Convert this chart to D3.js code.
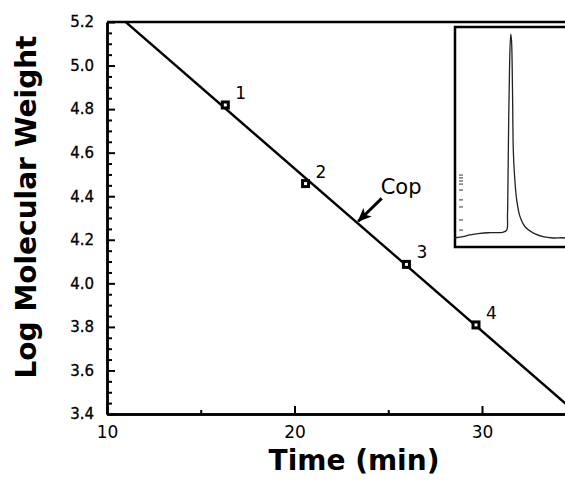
<!DOCTYPE html>
<html><head><meta charset="utf-8">
<script src="https://cdn.jsdelivr.net/npm/d3@7"></script>
<style>
html,body{margin:0;padding:0;background:#fff;}
svg{display:block;font-family:"DejaVu Sans",sans-serif;}
</style></head>
<body>
<svg id="c" width="565" height="481"></svg>
<script>
// ---- data ----
const standardLabels = ["1", "2", "3", "4"];
const standardTimes = [16.31, 20.59, 25.97, 29.68];      // min
const standardLogMW = [4.819, 4.458, 4.087, 3.809];
const yMajorTicks = [3.4, 3.6, 3.8, 4.0, 4.2, 4.4, 4.6, 4.8, 5.0, 5.2];
const xMajorTicks = [10, 20, 30];
const xMinorTicks = [15, 25];
const annotationText = "Cop";
const annotationTip = [23.4, 4.285];
const annotationTail = [24.65, 4.39];
// inset chromatogram (arbitrary units)
const insetTime = [0, 3.3, 8, 15, 25, 35, 48, 51.7, 52.5, 53, 53.7, 54.5, 55.7, 56.5, 57.5, 58.3, 59.5, 61.7, 65, 70, 78, 88, 98, 106.7, 110];
const insetSignal = [4.2, 4.4, 4.7, 5.5, 6.2, 6.5, 6.7, 7.7, 14.5, 30.5, 57.7, 80.5, 96.8, 94, 71.4, 44, 32.7, 21.4, 13.8, 9.2, 6.4, 4.7, 4.1, 4.2, 4.1];
const insetMarks = [32.7, 31.4, 30, 28.6, 25.9, 21.4, 18.2, 12.3, 7.7];

// ---- layout ----
const svg = d3.select("#c");
const L = 107, T = 22, B = 414;
const x = d3.scaleLinear().domain([10, 35]).range([L, L + 25 * 18.75]);
const y = d3.scaleLinear().domain([3.4, 5.2]).range([B, T]);
const yMinor = d3.range(3.45, 5.2, 0.05).filter(v => Math.abs(Math.round(v * 5) - v * 5) > 1e-6);

// clip
svg.append("defs").append("clipPath").attr("id", "clip")
  .append("rect").attr("x", L).attr("y", T).attr("width", x(35) - L).attr("height", B - T);

// regression fit line
const n = standardTimes.length;
const mt = d3.mean(standardTimes), my = d3.mean(standardLogMW);
let sxy = 0, sxx = 0;
for (let i = 0; i < n; i++) { sxy += (standardTimes[i] - mt) * (standardLogMW[i] - my); sxx += (standardTimes[i] - mt) ** 2; }
const slope = sxy / sxx, icpt = my - slope * mt;
const fitT = [10, 35];
svg.append("g").attr("clip-path", "url(#clip)")
  .append("path")
  .datum(fitT)
  .attr("d", d3.line().x(d => x(d)).y(d => y(icpt + slope * d)))
  .attr("stroke", "#000").attr("stroke-width", 2.4).attr("fill", "none");

// axes
const axStyle = g => {
  g.selectAll("path.domain").attr("stroke", "#000").attr("stroke-width", 2.5);
  g.selectAll(".tick line").attr("stroke", "#000").attr("stroke-width", 2);
  g.selectAll("text").attr("fill", "#000").attr("font-family", "DejaVu Sans");
};
svg.append("g").attr("transform", `translate(${L},0)`)
  .call(d3.axisLeft(y).tickValues(yMinor).tickSize(-5).tickSizeOuter(0).tickFormat(""))
  .call(axStyle);
svg.append("g").attr("transform", `translate(${L},0)`)
  .call(d3.axisLeft(y).tickValues(yMajorTicks).tickSize(-8).tickSizeOuter(0).tickPadding(13).tickFormat(d3.format(".1f")))
  .call(axStyle)
  .call(g => g.selectAll("text").attr("font-size", 15).attr("stroke", "#000").attr("stroke-width", 0.3));
svg.append("g").attr("transform", `translate(0,${B})`)
  .call(d3.axisBottom(x).tickValues(xMinorTicks).tickSize(-4).tickSizeOuter(0).tickFormat(""))
  .call(axStyle);
svg.append("g").attr("transform", `translate(0,${B})`)
  .call(d3.axisBottom(x).tickValues(xMajorTicks).tickSize(-8).tickSizeOuter(0).tickPadding(12).tickFormat(d3.format("d")))
  .call(axStyle)
  .call(g => g.selectAll("text").attr("font-size", 17));
// frame (top & right)
svg.append("path")
  .attr("d", `M${L},${T}H${x(35)}V${B}`)
  .attr("stroke", "#000").attr("stroke-width", 2.5).attr("fill", "none");

// titles
svg.append("text").attr("x", 354).attr("y", 470).attr("text-anchor", "middle")
  .attr("font-size", 28).attr("font-weight", "bold").text("Time (min)");
svg.append("text").attr("transform", "translate(36,207) rotate(-90)").attr("text-anchor", "middle")
  .attr("font-size", 28).attr("font-weight", "bold").text("Log Molecular Weight");

// points
const pts = standardTimes.map((t, i) => ({ t, v: standardLogMW[i], lab: standardLabels[i] }));
svg.append("g").selectAll("rect").data(pts).join("rect")
  .attr("x", d => x(d.t) - 3).attr("y", d => y(d.v) - 3)
  .attr("width", 6).attr("height", 6)
  .attr("fill", "#fff").attr("stroke", "#000").attr("stroke-width", 3);
svg.append("g").selectAll("text").data(pts).join("text")
  .attr("x", d => x(d.t) + 10).attr("y", d => y(d.v) - 6)
  .attr("font-size", 17).text(d => d.lab);

// annotation arrow
svg.append("defs").append("marker").attr("id", "ah")
  .attr("viewBox", "0 0 14 12").attr("refX", 13).attr("refY", 6)
  .attr("markerWidth", 14).attr("markerHeight", 12).attr("markerUnits", "userSpaceOnUse")
  .attr("orient", "auto")
  .append("path").attr("d", "M0,0 L14,6 L0,12 L3.5,6 Z").attr("fill", "#000");
svg.append("line")
  .attr("x1", x(annotationTail[0])).attr("y1", y(annotationTail[1]))
  .attr("x2", x(annotationTip[0])).attr("y2", y(annotationTip[1]))
  .attr("stroke", "#000").attr("stroke-width", 3).attr("marker-end", "url(#ah)");
svg.append("text").attr("x", x(annotationTail[0]) - 1).attr("y", y(annotationTail[1]) - 4)
  .attr("font-size", 21).text(annotationText);

// inset
const IL = 455, IT = 27, IB = 247, IR = 590;
const ix = d3.scaleLinear().domain([0, 110]).range([IL, IL + 110]);
const iy = d3.scaleLinear().domain([0, 100]).range([IB, IB - 220]);
const ins = svg.append("g");
ins.append("rect").attr("x", IL).attr("y", IT).attr("width", IR - IL).attr("height", IB - IT)
  .attr("fill", "#fff").attr("stroke", "#000").attr("stroke-width", 2.5);
ins.append("path").datum(insetTime.map((t, i) => [t, insetSignal[i]]))
  .attr("d", d3.line().x(d => ix(d[0])).y(d => iy(d[1])).curve(d3.curveCatmullRom))
  .attr("fill", "none").attr("stroke", "#222").attr("stroke-width", 1.3);
ins.append("g").selectAll("line").data(insetMarks).join("line")
  .attr("x1", IL + 4).attr("x2", IL + 8).attr("y1", d => iy(d)).attr("y2", d => iy(d))
  .attr("stroke", "#333").attr("stroke-width", 1);
</script>
</body></html>
